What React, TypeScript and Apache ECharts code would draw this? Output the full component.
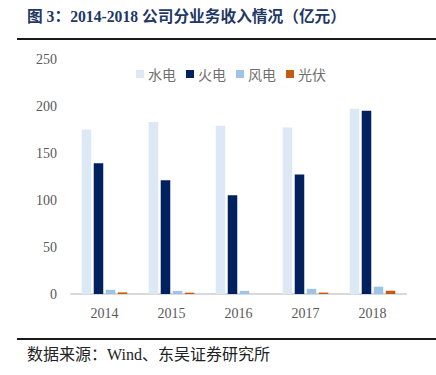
import React, { useEffect, useRef } from "react";
import * as echarts from "echarts";

const categories = ["2014", "2015", "2016", "2017", "2018"];
const hydro = [175, 183, 179, 177, 197];
const thermal = [139, 121, 105, 127, 195];
const wind = [4.5, 3.3, 3.3, 5.5, 7.8];
const solar = [1.7, 1.4, 0, 1.5, 3.5];
const seriesNames = ["水电", "火电", "风电", "光伏"];
const colors = ["#dde8f5", "#002060", "#9dc3e6", "#c55a11"];
const titleText = "图 3：2014-2018 公司分业务收入情况（亿元）";
const sourceText = "数据来源：Wind、东吴证券研究所";

export default function App() {
  const ref = useRef<HTMLDivElement>(null);
  useEffect(() => {
    document.body.style.margin = "0";
    const chart = echarts.init(ref.current!, null, { renderer: "svg" });
    const data = [hydro, thermal, wind, solar];
    chart.setOption({
      animation: false,
      backgroundColor: "#ffffff",
      textStyle: { fontFamily: "'Liberation Serif', 'Noto Sans CJK SC', serif" },
      graphic: [
        {
          type: "text",
          left: 27,
          top: 9,
          style: {
            text: titleText,
            font: "bold 15.7px 'Liberation Serif', 'Noto Sans CJK SC', serif",
            fill: "#1f3864",
          },
        },
        {
          type: "line",
          shape: { x1: 17, y1: 39, x2: 436, y2: 39 },
          style: { stroke: "#1a1a1a", lineWidth: 2 },
        },
        {
          type: "line",
          shape: { x1: 17, y1: 339, x2: 436, y2: 339 },
          style: { stroke: "#1a1a1a", lineWidth: 2 },
        },
        {
          type: "text",
          left: 27,
          top: 346,
          style: {
            text: sourceText,
            font: "16px 'Liberation Serif', 'Noto Sans CJK SC', serif",
            fill: "#222222",
          },
        },
      ],
      legend: {
        top: 62,
        left: 131,
        itemWidth: 8,
        itemHeight: 8,
        itemGap: 10,
        icon: "rect",
        textStyle: { fontSize: 14, color: "#6f6f6f", fontFamily: "'Noto Sans CJK SC', sans-serif", padding: [0, 0, 0, -1] },
        data: seriesNames,
      },
      grid: { left: 71, right: 30, top: 59, bottom: 81, containLabel: false },
      xAxis: {
        type: "category",
        data: categories,
        axisLine: { lineStyle: { color: "#d9d9d9", width: 2 } },
        axisTick: { show: false },
        axisLabel: { color: "#595959", fontSize: 14, margin: 12 },
      },
      yAxis: {
        type: "value",
        min: 0,
        max: 250,
        interval: 50,
        axisLine: { show: false },
        axisTick: { show: false },
        splitLine: { show: false },
        axisLabel: { color: "#595959", fontSize: 14, margin: 14 },
      },
      series: seriesNames.map((name, i) => ({
        name,
        type: "bar",
        data: data[i],
        itemStyle: { color: colors[i] },
        barGap: "26%",
        barCategoryGap: "32%",
      })),
    });
    return () => chart.dispose();
  }, []);
  return <div ref={ref} style={{ width: 436, height: 375 }} />;
}
